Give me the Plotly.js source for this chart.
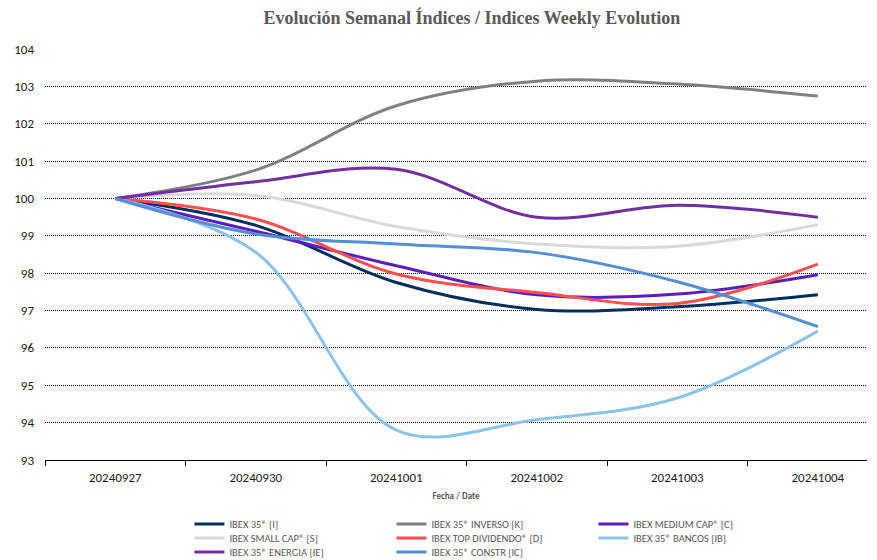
<!DOCTYPE html>
<html>
<head>
<meta charset="utf-8">
<script src="https://cdn.plot.ly/plotly-3.0.1.min.js"></script>
<style>html,body{margin:0;padding:0;background:#fff;}#chart{width:877px;height:560px;}</style>
</head>
<body>
<div id="chart"></div>
<script>
const dates = ['20240927','20240930','20241001','20241002','20241003','20241004'];
const yTicks = [93,94,95,96,97,98,99,100,101,102,103,104];

const ibex35    = [100, 99.28, 97.75, 97.03, 97.10, 97.42];
const inverso   = [100, 100.76, 102.48, 103.14, 103.06, 102.74];
const mediumCap = [100, 99.12, 98.20, 97.42, 97.44, 97.96];
const smallCap  = [100, 100.08, 99.25, 98.78, 98.72, 99.30];
const topDiv    = [100, 99.45, 97.98, 97.48, 97.19, 98.24];
const bancos    = [100, 98.56, 93.80, 94.08, 94.66, 96.45];
const energia   = [100, 100.45, 100.78, 99.50, 99.82, 99.50];
const constr    = [100, 99.05, 98.78, 98.55, 97.77, 96.57];

const seriesNames = ['IBEX 35® [I]','IBEX 35® INVERSO [K]','IBEX MEDIUM CAP® [C]',
  'IBEX SMALL CAP® [S]','IBEX TOP DIVIDENDO® [D]','IBEX 35® BANCOS [IB]',
  'IBEX 35® ENERGIA [IE]','IBEX 35® CONSTR [IC]'];
const seriesValues = [ibex35, inverso, mediumCap, smallCap, topDiv, bancos, energia, constr];
const seriesColors = ['#002F5F','#808080','#5B1EBE','#D9D9D9','#FF5050','#8DC3E6','#7030A0','#558ED5'];
const legendIds = ['legend','legend','legend','legend2','legend2','legend2','legend3','legend3'];

const traces = seriesNames.map((n, i) => ({
  type: 'scatter', mode: 'lines', name: n,
  x: dates, y: seriesValues[i],
  line: {color: seriesColors[i], width: 3, shape: 'spline', smoothing: 1},
  legend: legendIds[i], hoverinfo: 'x+y+name'
}));

const legFont = {family: 'Carlito, "Liberation Sans", Arial, sans-serif', size: 10.5, color: '#595959'};
function leg(y) {
  return {orientation: 'h', xref: 'container', yref: 'container', x: 0.216, y: y,
    xanchor: 'left', yanchor: 'middle', entrywidth: 157, entrywidthmode: 'pixels',
    font: legFont, bgcolor: 'rgba(0,0,0,0)', borderwidth: 0, traceorder: 'normal'};
}

const layout = {
  width: 877, height: 560,
  margin: {l: 45, r: 10, t: 49, b: 100, pad: 0},
  paper_bgcolor: '#fff', plot_bgcolor: '#fff',
  showlegend: true,
  title: {text: '<b>Evolución Semanal Índices / Indices Weekly Evolution</b>',
    font: {family: '"Liberation Serif", "DejaVu Serif", serif', size: 18, color: '#595959'},
    xref: 'container', x: 0.538, xanchor: 'center', yref: 'container', y: 0.968, yanchor: 'middle'},
  xaxis: {type: 'category', range: [-0.5, 5.35], tickson: 'boundaries',
    ticks: 'outside', ticklen: 5, tickcolor: '#000', tickwidth: 1,
    showline: true, linecolor: '#000', linewidth: 1, showgrid: false, zeroline: false,
    tickfont: {family: 'Carlito, "Liberation Sans", Arial, sans-serif', size: 13, color: '#1a1a1a'},
    ticklabelstandoff: 5,
    title: {text: '<b>Fecha / Date</b>', standoff: 9,
      font: {family: 'Carlito, "Liberation Sans", Arial, sans-serif', size: 9, color: '#595959'}},
    fixedrange: true},
  yaxis: {range: [93, 104], tickvals: yTicks, ticktext: yTicks.map(String),
    showgrid: true, gridcolor: '#000', gridwidth: 1, griddash: '1px,1px',
    zeroline: false, showline: false, ticks: '', ticklabelstandoff: 10,
    tickfont: {family: 'Carlito, "Liberation Sans", Arial, sans-serif', size: 13, color: '#1a1a1a'},
    fixedrange: true},
  legend: leg(1 - 524/560),
  legend2: leg(1 - 538/560),
  legend3: leg(1 - 552/560)
};

Plotly.newPlot('chart', traces, layout, {displayModeBar: false, staticPlot: true});
</script>
</body>
</html>
